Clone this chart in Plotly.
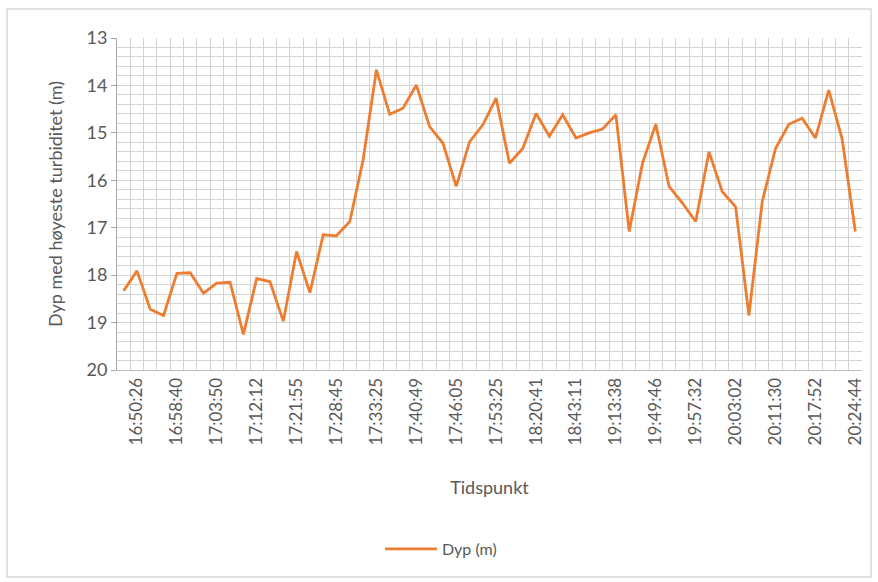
import plotly.graph_objects as go

# Depth of highest turbidity (m) per measurement, in time order
depth_m = [
    18.33, 17.91, 18.72, 18.85, 17.96, 17.95, 18.38, 18.17, 18.15, 19.25,
    18.07, 18.14, 18.97, 17.50, 18.37, 17.15, 17.17, 16.87, 15.57, 13.67,
    14.61, 14.48, 13.99, 14.87, 15.22, 16.13, 15.19, 14.83, 14.27, 15.64,
    15.33, 14.59, 15.07, 14.62, 15.11, 15.00, 14.92, 14.62, 17.08, 15.64,
    14.82, 16.13, 16.48, 16.87, 15.40, 16.24, 16.56, 18.85, 16.45, 15.33,
    14.82, 14.69, 15.11, 14.10, 15.12, 17.08,
]

# Timestamps shown on the category axis (every third measurement)
label_positions = list(range(1, 56, 3))
time_labels = [
    "16:50:26", "16:58:40", "17:03:50", "17:12:12", "17:21:55", "17:28:45",
    "17:33:25", "17:40:49", "17:46:05", "17:53:25", "18:20:41", "18:43:11",
    "19:13:38", "19:49:46", "19:57:32", "20:03:02", "20:11:30", "20:17:52",
    "20:24:44",
]

W, H = 878, 582
L, R, T, B = 117, 16, 38, 212
FONT = "Lato"
GRID = "#d4d4d4"
TEXT = "#595959"

fig = go.Figure()
fig.add_trace(go.Scatter(
    x=list(range(len(depth_m))),
    y=depth_m,
    mode="lines",
    name="Dyp (m)",
    line=dict(color="#ED7D31", width=2.8),
))

fig.update_layout(
    width=W, height=H,
    margin=dict(l=L, r=R, t=T, b=B),
    paper_bgcolor="white",
    plot_bgcolor="white",
    font=dict(family=FONT, color=TEXT, size=17),
    showlegend=True,
    legend=dict(
        orientation="h",
        x=(441 - L) / (W - L - R), xanchor="center",
        y=-(549 - (H - B)) / (H - T - B), yanchor="middle",
        font=dict(size=16, color=TEXT),
        itemwidth=52,
    ),
)

fig.update_xaxes(
    range=[-0.5, len(depth_m) - 0.5],
    tickmode="array",
    tickvals=label_positions,
    ticktext=time_labels,
    tickangle=-90,
    tickfont=dict(size=17, color=TEXT),
    showgrid=False,
    zeroline=False,
    showline=True,
    linecolor="#bfbfbf",
    linewidth=1,
    ticks="",
    minor=dict(tickmode="linear", tick0=0.5, dtick=1, showgrid=True,
               gridcolor=GRID, gridwidth=1, ticks=""),
    title=dict(text="Tidspunkt", font=dict(size=18, color=TEXT), standoff=36),
)

fig.update_yaxes(
    range=[20, 13],
    tickmode="linear", tick0=13, dtick=1,
    tickfont=dict(size=18, color=TEXT),
    showgrid=True, gridcolor=GRID, gridwidth=1,
    zeroline=False,
    showline=True, linecolor="#a6a6a6", linewidth=1,
    ticks="outside", ticklen=5, tickcolor="#a6a6a6",
    minor=dict(tickmode="linear", tick0=13, dtick=0.2, showgrid=True,
               gridcolor=GRID, gridwidth=1, ticks=""),
    title=dict(text="Dyp med høyeste turbiditet (m)",
               font=dict(size=18, color=TEXT), standoff=19),
)

# Thin frame round the whole chart area
pw, ph = W - L - R, H - T - B
fig.add_shape(
    type="rect", xref="paper", yref="paper",
    x0=(7 - L) / pw, x1=(871 - L) / pw,
    y0=-(577 - (H - B)) / ph, y1=1 + (T - 9) / ph,
    line=dict(color="#d9d9d9", width=1.5),
    layer="below",
)

fig.write_html("out.html")
